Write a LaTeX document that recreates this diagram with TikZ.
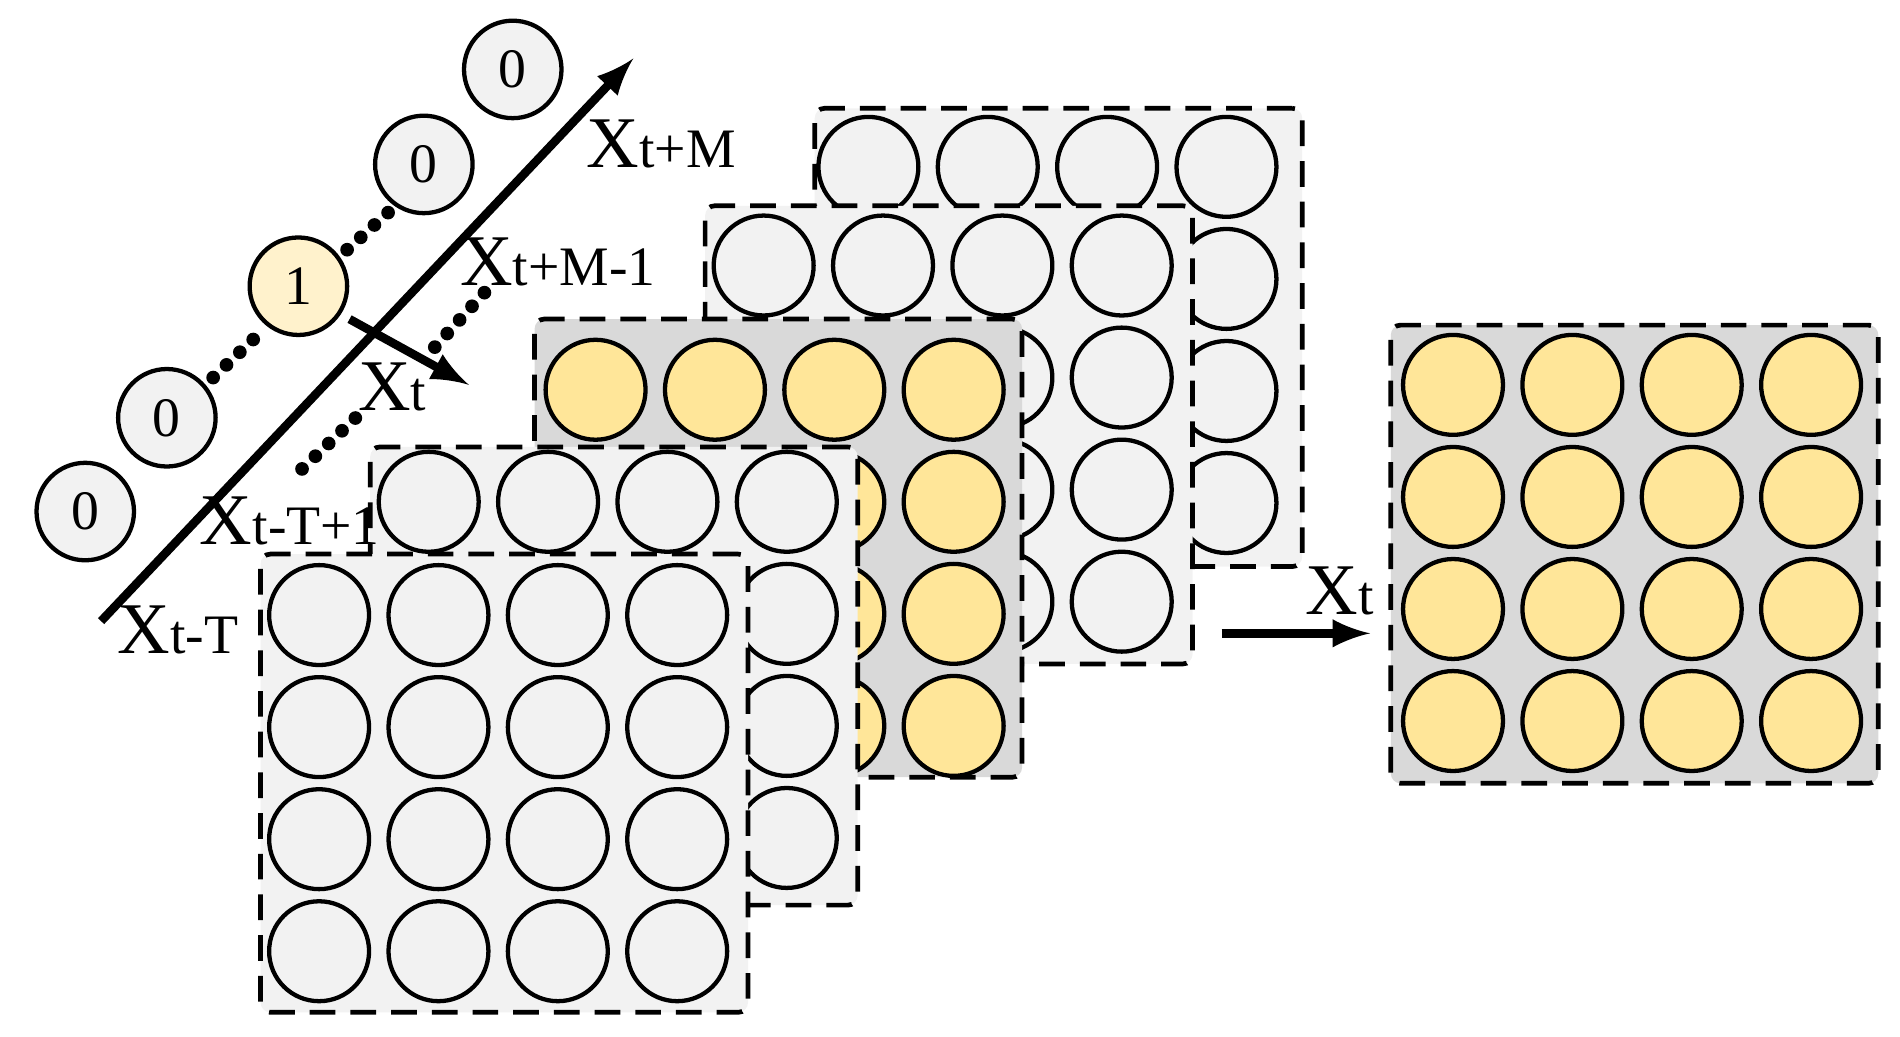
\documentclass[tikz,border=0pt]{standalone}
\usepackage{fontspec}
\setmainfont{Liberation Serif}
\usetikzlibrary{arrows,calc}
\definecolor{lgray}{HTML}{F2F2F2}
\definecolor{dgray}{HTML}{D9D9D9}
\definecolor{ylw}{HTML}{FFE699}
\definecolor{lylw}{HTML}{FFF2CC}
\tikzset{>=latex}
\tikzstyle{frame}=[draw,line width=1.1pt,rounded corners=0.08cm,anchor=north west,dash pattern=on 6pt off 3.5pt]
\tikzstyle{cell}=[circle,draw,line width=1pt,minimum size=0.82cm,inner sep=0pt]
\tikzstyle{bit}=[circle,draw,line width=1pt,fill=lgray,minimum size=0.8cm,inner sep=0pt,font=\fontsize{13}{13}\selectfont]
\tikzstyle{lab}=[font=\fontsize{17}{17}\selectfont,inner sep=0pt]
\tikzstyle{dots}=[line width=3.2pt,line cap=round,dash pattern=on 0pt off 4.3pt]
\newcommand{\Xs}[1]{X{\fontsize{13}{13}\selectfont #1}}

\begin{document}
\begin{tikzpicture}[x=0.01cm,y=-0.01cm]
    \useasboundingbox (0,0) rectangle (1560,851);
    % layers, back to front
    \foreach \n/\lx/\ly/\cx/\cy/\bg/\fg in {
        4/667/87/713/137/lgray/lgray,
        3/577/167/627/218/lgray/lgray,
        2/437/260/489/320/dgray/ylw,
        1/302/365/352/412/lgray/lgray,
        0/212/453/262/505/lgray/lgray,
        5/1140/265/1193/316/dgray/ylw} {
        \node[frame,fill=\bg,minimum width=4.0cm,minimum height=3.76cm] (f\n) at (\lx,\ly) {};
        \foreach \i in {0,...,3} {
            \foreach \j in {0,...,3} {
                \node[cell,fill=\fg] (c\n-\i\j) at (\cx+98*\i,\cy+92*\j) {};
            };
        };
    };
    % one-hot bits
    \node[bit] (b0) at (70,420) {0};
    \node[bit] (b1) at (137,343) {0};
    \node[bit,fill=lylw] (b2) at (245,235) {1};
    \node[bit] (b3) at (348,135) {0};
    \node[bit] (b4) at (421,57) {0};
    \coordinate (d1) at (175,310);
    \coordinate (d2) at (215,272);
    \coordinate (d3) at (285,205);
    \coordinate (d4) at (327,167);
    \coordinate (d5) at (248,385);
    \coordinate (d6) at (292,343);
    \coordinate (d7) at (357,285);
    \coordinate (d8) at (398,240);
    \draw[dots] (d1) -- (d2);
    \draw[dots] (d3) -- (d4);
    \draw[dots] (d5) -- (d6);
    \draw[dots] (d7) -- (d8);
    % time axis
    \coordinate (t0) at (83,510);
    \coordinate (t1) at (520,48);
    \draw[->,line width=2pt] (t0) -- (t1);
    \coordinate (s0) at (287,262);
    \coordinate (s1) at (385,316);
    \draw[->,line width=2pt] (s0) -- (s1);
    \coordinate (r0) at (1003,520);
    \coordinate (r1) at (1125,520);
    \draw[->,line width=2pt] (r0) -- (r1);
    \node[lab] (xm) at (543,118) {\Xs{t+M}};
    \node[lab] (xm1) at (458,215) {\Xs{t+M-1}};
    \node[lab] (xt) at (322,318) {\Xs{t}};
    \node[lab] (xT1) at (238,428) {\Xs{t-T+1}};
    \node[lab] (xT) at (146,517) {\Xs{t-T}};
    \node[lab] (xr) at (1100,485) {\Xs{t}};
\end{tikzpicture}
\end{document}
